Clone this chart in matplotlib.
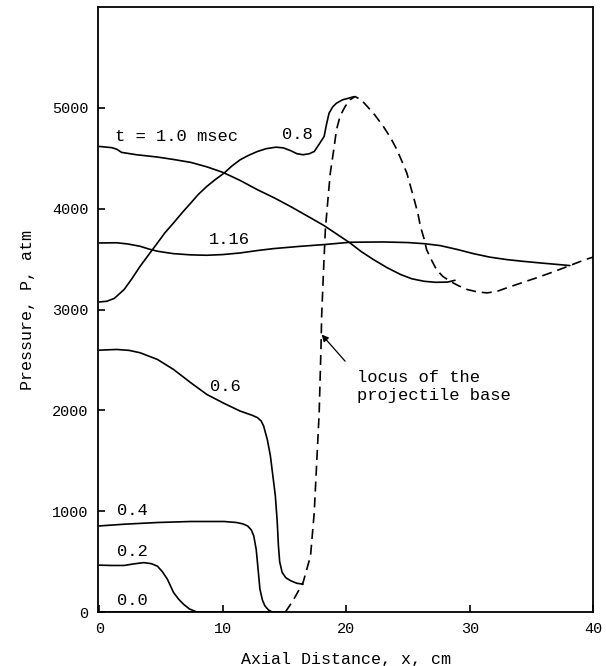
import matplotlib.pyplot as plt

plt.rcParams['font.family'] = ['Liberation Mono', 'DejaVu Sans Mono']

# pressure profiles: x in cm, P in atm
x_00 = [0, 15]
p_00 = [0, 0]

x_02 = [0, 1.0, 2.0, 2.8, 3.6, 4.2, 4.7, 5.1, 5.5, 6.0, 6.4, 6.8, 7.3, 7.9, 15]
p_02 = [465, 462, 462, 478, 490, 480, 455, 400, 327, 195, 130, 79, 30, 0, 0]

x_04 = [0, 2.0, 4.7, 7.4, 10.1, 11.1, 11.6, 12.0, 12.3, 12.5, 12.7, 12.8, 13.0,
        13.2, 13.4, 13.7, 14.0, 15]
p_04 = [854, 871, 888, 898, 898, 888, 875, 854, 815, 756, 620, 492, 228,
        120, 62, 20, 0, 0]

x_06 = [0, 1.4, 2.4, 3.3, 4.7, 6.0, 7.4, 8.7, 10.1, 11.4, 12.4, 12.8, 13.1,
        13.3, 13.6, 13.85, 14.05, 14.25, 14.4, 14.5, 14.6, 14.8, 15.1, 15.5,
        16.0, 16.5]
p_06 = [2597, 2604, 2595, 2571, 2505, 2406, 2274, 2158, 2069, 1993, 1950,
        1928, 1895, 1845, 1710, 1548, 1350, 1152, 900, 657, 500, 393, 340,
        310, 285, 277]

x_08 = [0, 0.6, 1.2, 2.0, 2.6, 3.3, 4.0, 4.7, 5.3, 6.0, 6.7, 7.4, 8.0, 8.7,
        9.4, 10.1, 10.7, 11.4, 12.1, 12.8, 13.5, 14.3, 14.9, 15.5, 16.0, 16.5,
        17.0, 17.4, 17.8, 18.2, 18.4, 18.6, 18.9, 19.2, 19.7, 20.2, 20.6]
p_08 = [3075, 3082, 3110, 3198, 3300, 3429, 3545, 3660, 3760, 3858, 3960,
        4056, 4140, 4221, 4290, 4353, 4420, 4485, 4530, 4567, 4595, 4610,
        4603, 4575, 4545, 4535, 4545, 4567, 4640, 4716, 4840, 4947, 5010,
        5046, 5080, 5096, 5110]

x_10 = [0, 1.0, 1.4, 1.8, 3.0, 4.7, 6.0, 7.4, 8.7, 10.0, 11.4, 12.8, 14.2,
        15.5, 16.8, 18.2, 19.2, 20.3, 21.2, 22.2, 23.3, 24.4, 25.3, 26.3,
        27.2, 28.2, 28.8]
p_10 = [4617, 4605, 4590, 4558, 4535, 4512, 4488, 4459, 4415, 4360, 4280,
        4188, 4105, 4020, 3930, 3832, 3750, 3660, 3575, 3495, 3415, 3347,
        3305, 3280, 3270, 3272, 3290]

x_116 = [0, 1.4, 2.3, 3.3, 4.0, 4.7, 6.0, 7.4, 8.7, 10.0, 11.4, 12.8, 14.1,
         16.3, 18.2, 20.3, 23.0, 25.0, 26.3, 27.6, 29.0, 30.3, 31.6, 33.0,
         34.3, 35.7, 37.0, 38.1]
p_116 = [3660, 3662, 3650, 3627, 3600, 3578, 3554, 3542, 3538, 3545, 3561,
         3585, 3604, 3627, 3644, 3667, 3670, 3664, 3653, 3634, 3595, 3554,
         3520, 3495, 3478, 3462, 3448, 3436]

# locus of the projectile base (dashed)
x_base = [15.06, 15.5, 15.9, 16.5, 17.1, 17.4, 17.6, 17.8, 17.95, 18.0,
          18.15, 18.3, 18.5, 18.7, 19.0, 19.2, 19.5, 19.9, 20.3, 20.7, 21.2,
          21.7, 22.3, 23.0, 23.6, 24.1, 24.5, 24.9, 25.2, 25.5, 25.8, 26.0,
          26.3, 26.5, 26.9, 27.3, 27.8, 28.4, 29.1, 29.8, 30.6, 31.4, 32.2,
          33.0, 34.2, 35.4, 36.8, 38.1, 39.35, 40.0]
p_base = [0, 80, 161, 294, 558, 987, 1482, 1977, 2637, 2934, 3380, 3792,
          4080, 4353, 4600, 4782, 4920, 5013, 5080, 5112, 5080, 5013, 4930,
          4815, 4700, 4584, 4470, 4353, 4220, 4089, 3950, 3825, 3700, 3594,
          3490, 3396, 3330, 3280, 3235, 3198, 3175, 3165, 3180, 3215, 3265,
          3314, 3375, 3436, 3495, 3520]

curves = [(x_00, p_00), (x_02, p_02), (x_04, p_04), (x_06, p_06),
          (x_08, p_08), (x_10, p_10), (x_116, p_116)]

fig = plt.figure(figsize=(6.06, 6.66), dpi=100)
ax = fig.add_axes([0.162, 0.081, 0.817, 0.9085])

for xs, ps in curves:
    ax.plot(xs, ps, color='black', lw=1.2, solid_capstyle='round')
ax.plot(x_base, p_base, color='black', lw=1.2, linestyle=(0, (6, 3.5)))

# curve labels
fs = 12.3
ax.text(1.3, 4713, 't = 1.0 msec', fontsize=fs, va='center', ha='left')
ax.text(16.0, 4733, '0.8', fontsize=fs, va='center', ha='center')
ax.text(10.5, 3690, '1.16', fontsize=fs, va='center', ha='center')
ax.text(10.2, 2241, '0.6', fontsize=fs, va='center', ha='center')
ax.text(2.65, 1003, '0.4', fontsize=fs, va='center', ha='center')
ax.text(2.65, 597, '0.2', fontsize=fs, va='center', ha='center')
ax.text(2.7, 112, '0.0', fontsize=fs, va='center', ha='center')

ax.text(20.9, 2240, 'locus of the\nprojectile base', fontsize=fs,
        va='center', ha='left', linespacing=1.25)
ax.annotate('', xy=(18.0, 2752), xytext=(19.9, 2488),
            arrowprops=dict(arrowstyle='-|>', color='black', lw=0.9,
                            shrinkA=0, shrinkB=0, mutation_scale=10))

ax.set_xlim(-0.1, 40)
ax.set_ylim(0, 6000)
ax.set_xticks([0, 10, 20, 30, 40])
ax.set_yticks([0, 1000, 2000, 3000, 4000, 5000])
ax.tick_params(direction='in', length=5, width=1.2, labelsize=11, pad=7)
for s in ax.spines.values():
    s.set_linewidth(1.3)

ax.set_xlabel('Axial Distance, x, cm', fontsize=12, labelpad=12)
ax.set_ylabel('Pressure, P, atm', fontsize=12, labelpad=12)

fig.savefig('out.png', dpi=100)
